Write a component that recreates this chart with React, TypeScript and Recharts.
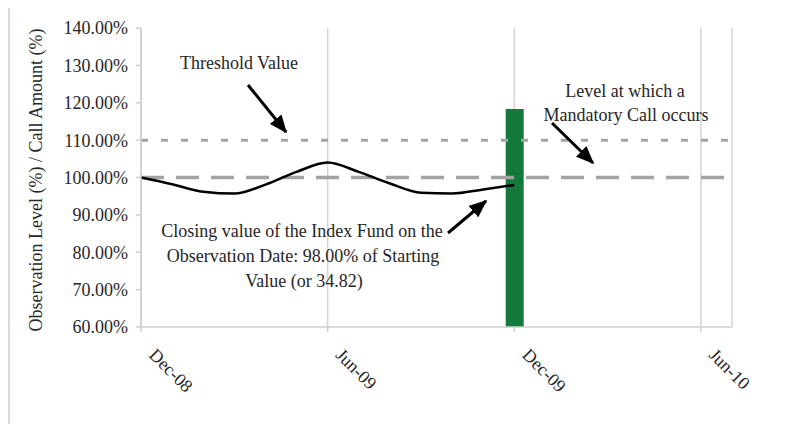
import React from "react";
import {
  ComposedChart,
  Line,
  Bar,
  XAxis,
  YAxis,
  CartesianGrid,
  ReferenceLine,
} from "recharts";

// months since Dec-08
const months = [0, 1, 2, 3, 4, 5, 6, 7, 8, 9, 10, 11, 12];
const levels = [100, 98.2, 96.2, 95.7, 98.1, 101.5, 104, 101.5, 98.4, 95.9, 95.7, 96.8, 98];
const callMonth = 12;
const callAmount = 118.3;
const thresholdLevel = 110;
const mandatoryCallLevel = 100;

const xTickMonths = [0, 6, 12, 18];
const xTickLabels = ["Dec-08", "Jun-09", "Dec-09", "Jun-10"];
const yTicks = [60, 70, 80, 90, 100, 110, 120, 130, 140];

const data = months.map((m, i) => ({
  m,
  level: levels[i],
  call: m === callMonth ? callAmount : null,
}));

const FONT = "'Liberation Serif', 'Times New Roman', serif";
const TEXT = "#262626";

const XTick = (props: any) => {
  const { x, y, payload } = props;
  const idx = xTickMonths.indexOf(payload.value);
  return (
    <text
      transform={`translate(${x + 7},${y + 22}) rotate(45)`}
      textAnchor="start"
      fontFamily={FONT}
      fontSize={18}
      fill={TEXT}
    >
      {xTickLabels[idx]}
    </text>
  );
};

const frameLine = (style: React.CSSProperties) => (
  <div style={{ position: "absolute", background: "#d9d9d9", ...style }} />
);

export default function App() {
  return (
    <div
      style={{
        position: "relative",
        margin: -8,
        width: 787,
        height: 432,
        background: "#fff",
        overflow: "hidden",
      }}
    >
      <div style={{ position: "absolute", left: 0, top: 0 }}>
        <ComposedChart
          width={787}
          height={432}
          data={data}
          margin={{ top: 28, right: 55, bottom: 0, left: 61 }}
        >
          <CartesianGrid horizontal={false} stroke="#d4d4d4" strokeWidth={1.5} />
          <XAxis
            dataKey="m"
            type="number"
            domain={[0, 19]}
            ticks={xTickMonths}
            tick={<XTick />}
            tickSize={5}
            stroke="#cfcfcf"
            strokeWidth={1.5}
            height={105}
            interval={0}
            allowDecimals={false}
          />
          <YAxis
            type="number"
            domain={[60, 140]}
            ticks={yTicks}
            width={80}
            tickSize={5}
            tickMargin={8}
            stroke="#cfcfcf"
            strokeWidth={1.5}
            tickFormatter={(v: number) => v.toFixed(2) + "%"}
            tick={{ fontFamily: FONT, fontSize: 18, fill: TEXT }}
            interval={0}
          />
          <Bar dataKey="call" fill="#137a3b" barSize={18} isAnimationActive={false} />
          <ReferenceLine
            y={thresholdLevel}
            stroke="#a3a3a3"
            strokeWidth={3}
            strokeDasharray="7 13"
          />
          <ReferenceLine
            y={mandatoryCallLevel}
            stroke="#a3a3a3"
            strokeWidth={3.5}
            strokeDasharray="23 12"
          />
          <Line
            dataKey="level"
            type="monotone"
            stroke="#000"
            strokeWidth={2.5}
            dot={false}
            isAnimationActive={false}
          />
        </ComposedChart>
      </div>
      {frameLine({ left: 7, top: 3, width: 780, height: 3 })}
      {frameLine({ left: 7, top: 426, width: 780, height: 3 })}
      {frameLine({ left: 7, top: 3, width: 3, height: 426 })}
      <svg
        width={787}
        height={432}
        style={{ position: "absolute", left: 0, top: 0, pointerEvents: "none" }}
      >
        <defs>
          <marker
            id="ah"
            viewBox="0 0 12 10"
            refX="11"
            refY="5"
            markerWidth="6"
            markerHeight="5"
            orient="auto"
            markerUnits="strokeWidth"
          >
            <path d="M0,0 L12,5 L0,10 z" fill="#000" />
          </marker>
        </defs>
        <text
          transform="translate(42,180) rotate(-90)"
          textAnchor="middle"
          fontFamily={FONT}
          fontSize={18}
          fill={TEXT}
        >
          Observation Level (%) / Call Amount (%)
        </text>
        <g fontFamily={FONT} fontSize={18} fill={TEXT} textAnchor="middle">
          <text x={239} y={69}>Threshold Value</text>
          <text x={625} y={97}>Level at which a</text>
          <text x={626} y={121}>Mandatory Call occurs</text>
          <text x={302} y={237}>Closing value of the Index Fund on the</text>
          <text x={303} y={262}>Observation Date: 98.00% of Starting</text>
          <text x={304} y={287}>Value (or 34.82)</text>
        </g>
        <g stroke="#000" strokeWidth={3} markerEnd="url(#ah)">
          <line x1={248} y1={85} x2={286} y2={132} />
          <line x1={552} y1={123} x2={593} y2={163} />
          <line x1={448} y1={233} x2={486} y2={201} />
        </g>
      </svg>
    </div>
  );
}
